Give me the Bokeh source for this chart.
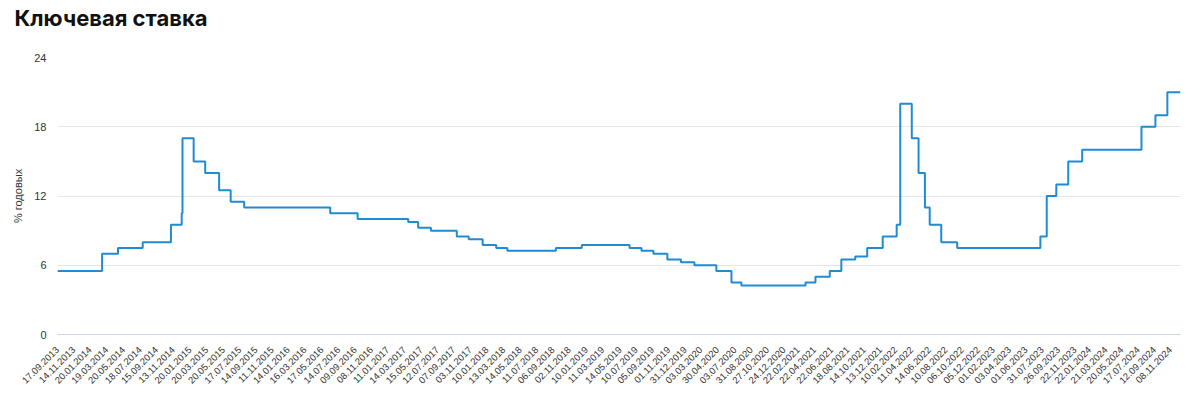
import pandas as pd
from math import pi
from bokeh.plotting import figure
from bokeh.models import FixedTicker, Range1d, LinearAxis
from bokeh.embed import file_html
from bokeh.resources import INLINE

title_text = "Ключевая ставка"
y_label = "% годовых"

# Key rate decisions (effective date, % per annum)
change_dates = [
    "2013-09-17", "2014-03-03", "2014-04-28", "2014-07-28", "2014-11-05",
    "2014-12-12", "2014-12-16", "2015-02-02", "2015-03-16", "2015-05-05",
    "2015-06-16", "2015-08-03", "2016-06-14", "2016-09-19", "2017-03-27",
    "2017-05-02", "2017-06-19", "2017-09-18", "2017-10-30", "2017-12-18",
    "2018-02-12", "2018-03-26", "2018-09-17", "2018-12-17", "2019-06-17",
    "2019-07-29", "2019-09-09", "2019-10-28", "2019-12-16", "2020-02-10",
    "2020-04-27", "2020-06-22", "2020-07-27", "2021-03-22", "2021-04-26",
    "2021-06-15", "2021-07-26", "2021-09-13", "2021-10-25", "2021-12-20",
    "2022-02-14", "2022-02-28", "2022-04-11", "2022-05-04", "2022-05-27",
    "2022-06-14", "2022-07-25", "2022-09-19", "2023-07-24", "2023-08-15",
    "2023-09-18", "2023-10-30", "2023-12-18", "2024-07-29", "2024-09-16",
    "2024-10-28",
]
key_rates = [
    5.50, 7.00, 7.50, 8.00, 9.50,
    10.50, 17.00, 15.00, 14.00, 12.50,
    11.50, 11.00, 10.50, 10.00, 9.75,
    9.25, 9.00, 8.50, 8.25, 7.75,
    7.50, 7.25, 7.50, 7.75, 7.50,
    7.25, 7.00, 6.50, 6.25, 6.00,
    5.50, 4.50, 4.25, 4.50, 5.00,
    5.50, 6.50, 6.75, 7.50, 8.50,
    9.50, 20.00, 17.00, 14.00, 11.00,
    9.50, 8.00, 7.50, 8.50, 12.00,
    13.00, 15.00, 16.00, 18.00, 19.00,
    21.00,
]
end_date = "2024-12-13"

tick_labels = [
    "17.09.2013", "14.11.2013", "20.01.2014", "19.03.2014", "20.05.2014",
    "18.07.2014", "15.09.2014", "13.11.2014", "20.01.2015", "20.03.2015",
    "20.05.2015", "17.07.2015", "14.09.2015", "11.11.2015", "14.01.2016",
    "16.03.2016", "17.05.2016", "14.07.2016", "09.09.2016", "08.11.2016",
    "11.01.2017", "14.03.2017", "15.05.2017", "12.07.2017", "07.09.2017",
    "03.11.2017", "10.01.2018", "13.03.2018", "14.05.2018", "11.07.2018",
    "06.09.2018", "02.11.2018", "10.01.2019", "11.03.2019", "14.05.2019",
    "10.07.2019", "05.09.2019", "01.11.2019", "31.12.2019", "03.03.2020",
    "30.04.2020", "03.07.2020", "31.08.2020", "27.10.2020", "24.12.2020",
    "22.02.2021", "22.04.2021", "22.06.2021", "18.08.2021", "14.10.2021",
    "13.12.2021", "10.02.2022", "11.04.2022", "14.06.2022", "10.08.2022",
    "06.10.2022", "05.12.2022", "01.02.2023", "03.04.2023", "01.06.2023",
    "31.07.2023", "26.09.2023", "22.11.2023", "22.01.2024", "21.03.2024",
    "20.05.2024", "17.07.2024", "12.09.2024", "08.11.2024",
]
y_ticks = [0, 6, 12, 18, 24]

# Russian non-working holidays (month-day), used for the trading-day axis
holiday_md = ["01-01", "01-02", "01-03", "01-04", "01-05", "01-06", "01-07",
              "01-08", "02-23", "03-08", "05-01", "05-09", "06-12", "11-04"]
holidays = [f"{y}-{md}" for y in range(2013, 2026) for md in holiday_md]
cal = pd.offsets.CustomBusinessDay(holidays=holidays)
days = pd.date_range(change_dates[0], end_date, freq=cal)
last = len(days) - 1

chg_idx = [int(i) for i in days.searchsorted(pd.to_datetime(change_dates))]
xs = chg_idx + [last]
ys = key_rates + [key_rates[-1]]

tick_idx = [int(i) for i in days.searchsorted(pd.to_datetime(tick_labels, format="%d.%m.%Y"))]

p = figure(width=1200, height=399, output_backend="svg", toolbar_location=None,
           x_range=Range1d(0, last), y_range=Range1d(0, 24),
           min_border_left=57, min_border_right=20, min_border_top=57,
           min_border_bottom=65)
p.outline_line_color = None
p.background_fill_color = "white"
p.border_fill_color = "white"

p.step(xs, ys, mode="after", line_color="#1f8bd3", line_width=2)

p.title.text = title_text
p.title.text_font = "Inter"
p.title.text_font_size = "22px"
p.title.text_font_style = "bold"
p.title.text_color = "#111111"
p.title.align = "left"
p.title.offset = -43
p.title.standoff = 0

xa = p.below[0]
xa.ticker = FixedTicker(ticks=tick_idx)
xa.major_label_overrides = {t: l for t, l in zip(tick_idx, tick_labels)}
xa.major_label_orientation = pi / 4
xa.major_tick_line_color = None
xa.minor_tick_line_color = None
xa.axis_line_color = "#ccd6eb"
xa.major_label_text_font = "Liberation Sans"
xa.major_label_text_font_size = "9.5px"
xa.major_label_text_color = "#333333"
xa.major_label_standoff = 8

ya = p.left[0]
ya.ticker = FixedTicker(ticks=y_ticks)
ya.axis_line_color = None
ya.major_tick_line_color = None
ya.minor_tick_line_color = None
ya.major_label_text_font = "Liberation Sans"
ya.major_label_text_font_size = "11px"
ya.major_label_text_color = "#333333"
ya.major_label_standoff = 5
ya.axis_label = y_label
ya.axis_label_text_font = "Liberation Sans"
ya.axis_label_text_font_size = "11px"
ya.axis_label_text_font_style = "normal"
ya.axis_label_text_color = "#333333"
ya.axis_label_standoff = 7

p.xgrid.grid_line_color = None
p.ygrid.grid_line_color = "#e6e6e6"

# blank spacer band between the title and the plot area
spacer = LinearAxis(ticker=FixedTicker(ticks=[last]), axis_line_color=None,
                    major_tick_line_color="white", major_tick_line_alpha=0.0,
                    minor_tick_line_color=None,
                    major_tick_in=0, major_tick_out=27, minor_tick_in=0,
                    minor_tick_out=0, major_label_standoff=0,
                    major_label_text_font_size="1px",
                    major_label_text_alpha=0.0,
                    major_label_overrides={last: ""},
                    axis_label_standoff=0)
p.add_layout(spacer, "above")

open("out.html", "w").write(file_html(p, INLINE))
